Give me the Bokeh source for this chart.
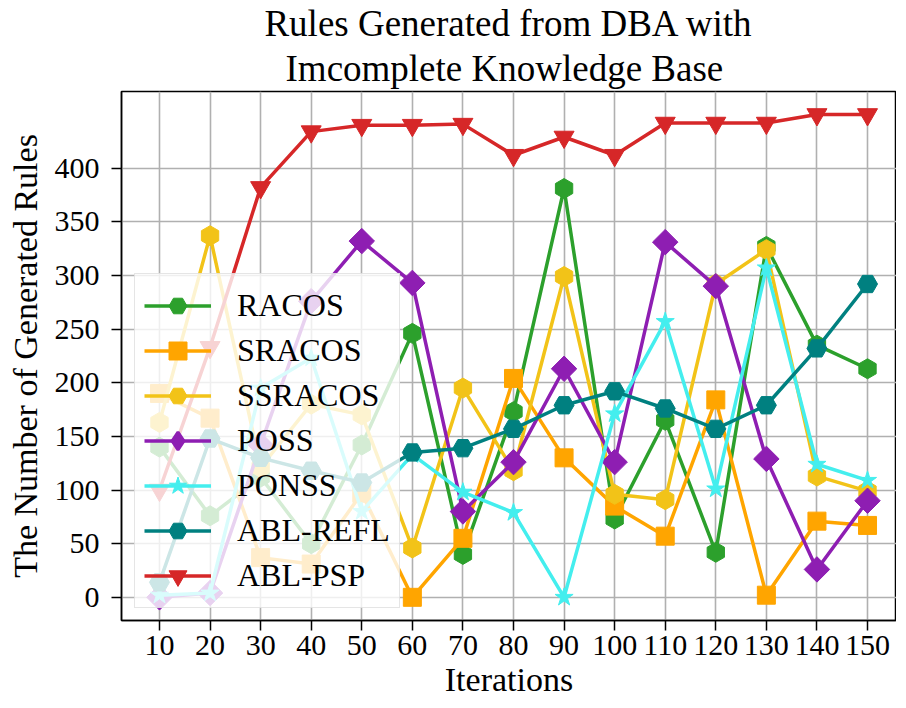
import math
from bokeh.plotting import figure
from bokeh.models import Range1d, FixedTicker, Legend, LegendItem, Title
from bokeh.embed import file_html
from bokeh.resources import INLINE

iterations = [10, 20, 30, 40, 50, 60, 70, 80, 90, 100, 110, 120, 130, 140, 150]
racos = [140, 76, 112, 50, 142, 246, 40, 173, 381, 73, 165, 42, 327, 235, 213]
sracos = [190, 167, 37, 31, 97, 0, 55, 204, 130, 85, 57, 184, 2, 71, 67]
ssracos = [163, 337, 121, 180, 170, 46, 195, 118, 299, 96, 91, 292, 324, 113, 99]
poss = [0, 4, 142, 276, 332, 293, 80, 126, 213, 126, 331, 290, 129, 26, 90]
ponss = [2, 4, 195, 223, 80, 133, 98, 79, 0, 171, 257, 101, 307, 124, 109]
abl_refl = [14, 148, 130, 118, 107, 135, 139, 157, 179, 192, 176, 157, 179, 232, 292]
abl_psp = [100, 233, 382, 434, 440, 440, 441, 412, 429, 412, 442, 442, 442, 450, 450]

y_ticks = [0, 50, 100, 150, 200, 250, 300, 350, 400]

FONT = "Liberation Serif"

# name, values, colour, plot marker, size, angle, legend marker
series = [
    ("RACOS", racos, "#2ca02c", "hex", 20, math.pi / 2, "hex"),
    ("SRACOS", sracos, "#ffa500", "square", 18, 0.0, "square"),
    ("SSRACOS", ssracos, "#f2c318", "hex", 20, math.pi / 2, "hex"),
    ("POSS", poss, "#8e1eb2", "square", 18, math.pi / 4, "diamond"),
    ("PONSS", ponss, "#44eeee", "star", 19, 0.0, "star"),
    ("ABL-REFL", abl_refl, "#008080", "hex", 20, 0.0, "hex"),
    ("ABL-PSP", abl_psp, "#d62728", "inverted_triangle", 20, 0.0, "inverted_triangle"),
]

p = figure(width=896, height=700, output_backend="svg", toolbar_location=None,
           x_range=Range1d(2.49, 155.73), y_range=Range1d(-21.6, 471.4),
           min_border_left=121, min_border_right=0, min_border_top=0, min_border_bottom=0)

p.add_layout(Title(text=" Imcomplete Knowledge Base", align="center", text_font=FONT,
                   text_font_size="37px", text_font_style="normal", text_color="black",
                   standoff=5), "above")
p.add_layout(Title(text="Rules Generated from DBA with", align="center", text_font=FONT,
                   text_font_size="37px", text_font_style="normal", text_color="black",
                   standoff=0), "above")

items = []
for name, vals, color, marker, size, angle, leg_marker in series:
    ln = p.line(iterations, vals, line_color=color, line_width=3.5)
    if leg_marker != marker:
        # legend-shaped marker drawn beneath the rotated plot marker
        proxy = p.scatter(iterations, vals, marker=leg_marker, size=size,
                          fill_color=color, line_color=color, line_width=3)
    sc = p.scatter(iterations, vals, marker=marker, size=size, angle=angle,
                   fill_color=color, line_color=color, line_width=1)
    if leg_marker != marker:
        items.append(LegendItem(label=name, renderers=[ln, proxy]))
    else:
        items.append(LegendItem(label=name, renderers=[ln, sc]))

legend = Legend(items=items, location=(13, 12),
                label_text_font=FONT, label_text_font_size="32px", label_text_color="black",
                glyph_width=67, glyph_height=45, label_height=45, spacing=0, padding=9,
                margin=0, label_standoff=26, background_fill_color="white",
                background_fill_alpha=0.8, border_line_color="#cccccc", border_line_width=1.5)
p.add_layout(legend)

p.xaxis.ticker = FixedTicker(ticks=iterations)
p.yaxis.ticker = FixedTicker(ticks=y_ticks)
p.xaxis.axis_label = "Iterations"
p.yaxis.axis_label = "The Number of Generated Rules"
for ax in (p.xaxis, p.yaxis):
    ax.axis_label_text_font = FONT
    ax.axis_label_text_font_size = "34px"
    ax.axis_label_text_font_style = "normal"
    ax.axis_label_text_color = "black"
    ax.major_label_text_font = FONT
    ax.major_label_text_font_size = "30px"
    ax.major_label_text_color = "black"
    ax.minor_tick_line_color = None
    ax.major_tick_in = 0
    ax.major_tick_out = 10
    ax.major_tick_line_width = 1.5
    ax.axis_line_width = 1.5
    ax.axis_line_color = "black"
p.xaxis.major_label_standoff = 5
p.xaxis.axis_label_standoff = 3
p.yaxis.major_label_standoff = 12
p.yaxis.axis_label_standoff = 8

p.grid.grid_line_color = "#b0b0b0"
p.grid.grid_line_width = 1.6
p.outline_line_color = "black"
p.outline_line_width = 1.5
p.outline_line_alpha = 1.0

open("out.html", "w").write(file_html(p, INLINE))
